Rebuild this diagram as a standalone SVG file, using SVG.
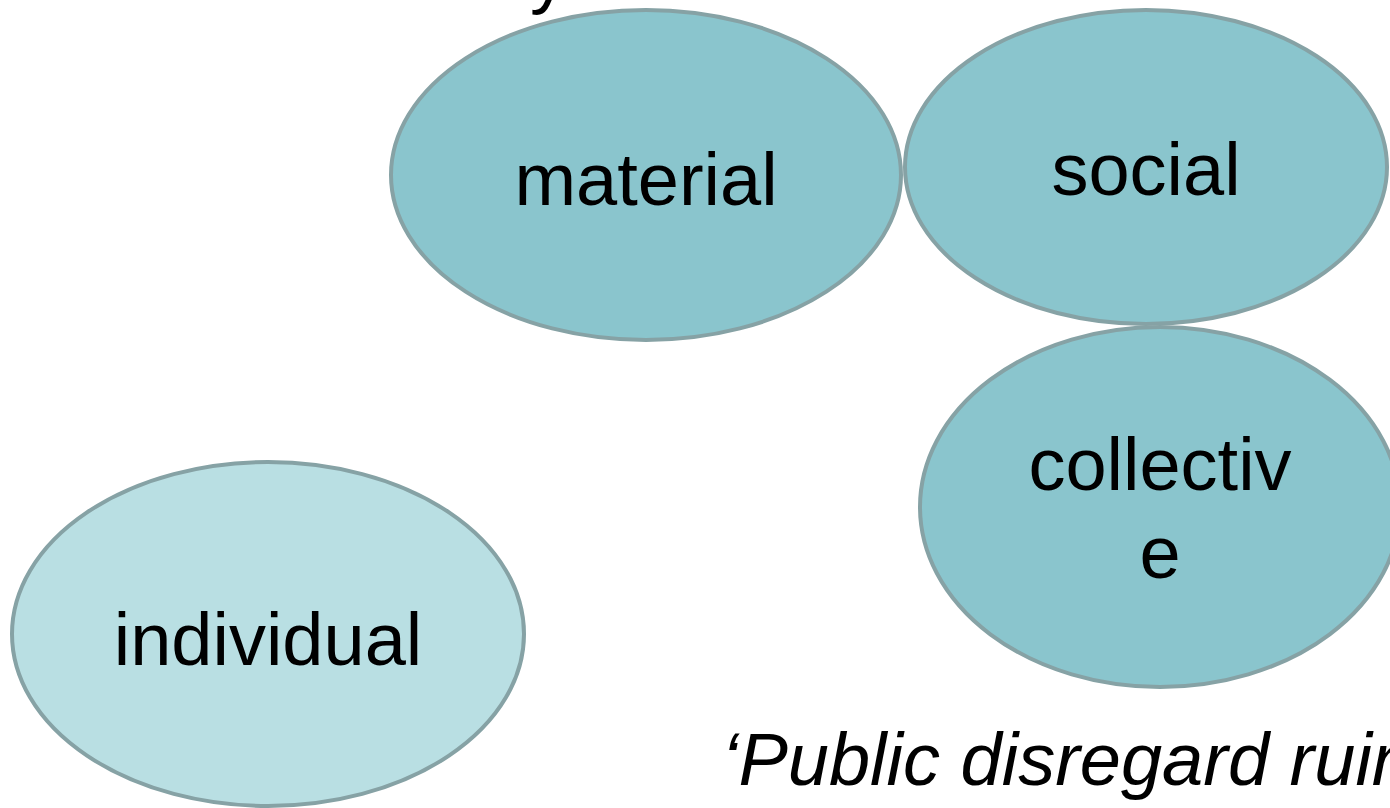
<svg xmlns="http://www.w3.org/2000/svg" width="1390" height="808" viewBox="0 0 1390 808">
<style>
.n{fill:#8AC5CD;stroke:#86A2A5;stroke-width:4}
.l{fill:#B9DFE3;stroke:#86A2A5;stroke-width:4}
.t{font-family:"Liberation Sans",Arial,sans-serif;font-size:74px;fill:#000;text-anchor:middle}
.i{font-family:"Liberation Sans",Arial,sans-serif;font-size:74px;font-style:italic;fill:#000}
</style>
<rect width="1390" height="808" fill="#fff"/>
<text class="i" x="530" y="0" style="font-style:normal">y</text>
<g id="connectors"></g>
<g id="material"><ellipse class="n" cx="646" cy="175" rx="255" ry="165"/><text class="t" x="646" y="205">material</text></g>
<g id="social"><ellipse class="n" cx="1146" cy="167" rx="241" ry="157"/><text class="t" x="1146" y="195">social</text></g>
<g id="collective"><ellipse class="n" cx="1160" cy="507" rx="240" ry="180"/><text class="t" x="1160" y="490">collectiv</text><text class="t" x="1160" y="578">e</text></g>
<g id="individual"><ellipse class="l" cx="268" cy="634" rx="256" ry="172"/><text class="t" x="268" y="665">individual</text></g>
<text class="i" x="722" y="785">‘Public disregard ruin</text>
</svg>
